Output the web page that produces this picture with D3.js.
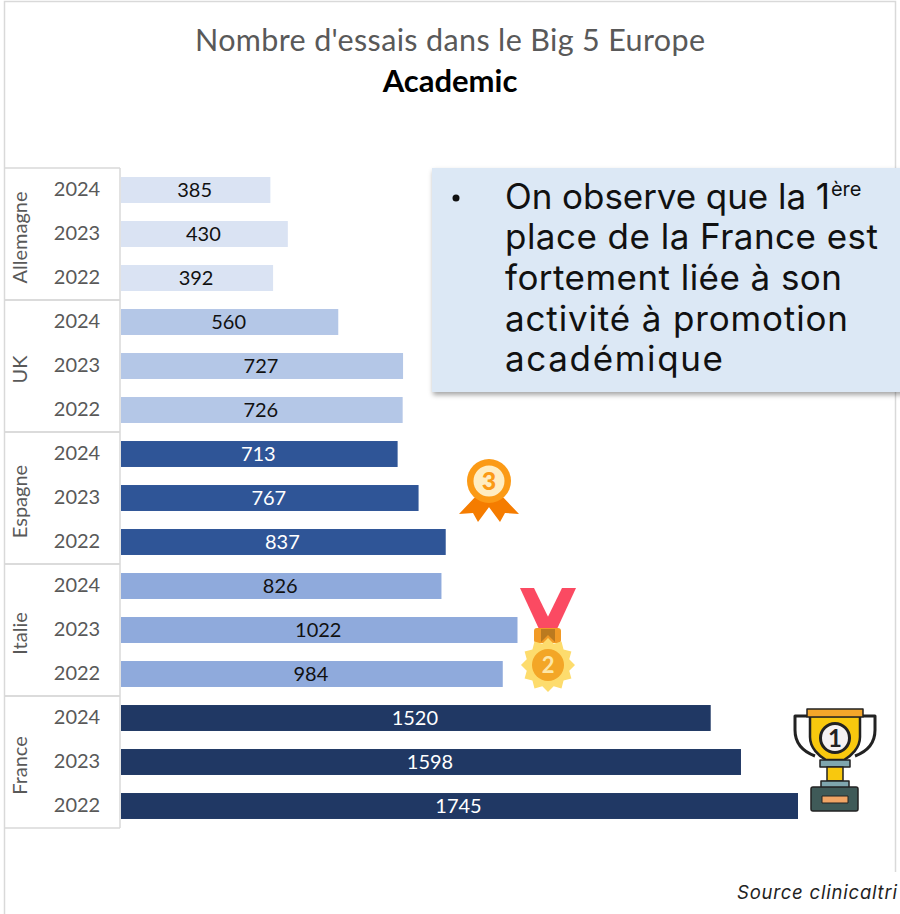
<!DOCTYPE html>
<html><head><meta charset="utf-8">
<script src="https://cdnjs.cloudflare.com/ajax/libs/d3/7.8.5/d3.min.js"></script>
<style>html,body{margin:0;padding:0;background:#fff;overflow:hidden}svg{display:block}</style>
</head><body><div id="chart"></div>
<script>
const countries = ["Allemagne","UK","Espagne","Italie","France"];
const years = ["2024","2023","2022"];
const values_Allemagne = [385,430,392];
const values_UK = [560,727,726];
const values_Espagne = [713,767,837];
const values_Italie = [826,1022,984];
const values_France = [1520,1598,1745];
const countryColors = ["#dae3f3","#b4c7e7","#2f5597","#8faadc","#203864"];
const labelColors = ["#111","#111","#fff","#111","#fff"];
const title = "Nombre d'essais dans le Big 5 Europe";
const subtitle = "Academic";
const calloutLines = ["On observe que la 1","place de la France est","fortement liée à son","activité à promotion","académique"];
const source = "Source clinicaltri";

const allValues = [values_Allemagne,values_UK,values_Espagne,values_Italie,values_France];
const rows = countries.flatMap((c,i)=>years.map((y,j)=>({c,y,i,v:allValues[i][j],key:c+y})));

const svg = d3.select("#chart").append("svg").attr("width",900).attr("height",914);
const FONT = "Lato, 'Open Sans', sans-serif";
const grid = "#d9d9d9";

const defs = svg.append("defs");
const f = defs.append("filter").attr("id","sh").attr("x","-5%").attr("y","-5%").attr("width","110%").attr("height","115%");
f.append("feDropShadow").attr("dx",1).attr("dy",3).attr("stdDeviation",2.5).attr("flood-color","#000").attr("flood-opacity",.35);

// outer frame
svg.append("path").attr("fill","none").attr("stroke",grid).attr("stroke-width",1.5)
  .attr("d","M4.5,914V1.5H895.5V872");

// titles
svg.append("text").attr("x",450).attr("y",51).attr("text-anchor","middle")
  .attr("font-family",FONT).attr("font-size",30.5).attr("fill","#595959").attr("textLength",510).text(title);
svg.append("text").attr("x",450).attr("y",92).attr("text-anchor","middle")
  .attr("font-family",FONT).attr("font-size",31).attr("font-weight",700).attr("fill","#000").text(subtitle);

// scales
const x = d3.scaleLinear().domain([0,1745]).range([121,798]);
const y = d3.scaleBand().domain(rows.map(d=>d.key)).range([168,828]).paddingInner(.41).paddingOuter(.205);
const step = y.step();

// table
const tx0 = 4.5, tx1 = 120;
const tbl = svg.append("g").attr("stroke",grid).attr("stroke-width",1.5);
countries.forEach((c,i)=>{
  const top = y(c+years[0]) - step*.205;
  tbl.append("line").attr("x1",tx0).attr("x2",tx1).attr("y1",top).attr("y2",top);
  tbl.append("line").attr("x1",tx0).attr("x2",tx1).attr("y1",top+step*3).attr("y2",top+step*3);
});
tbl.append("line").attr("x1",tx1).attr("x2",tx1).attr("y1",168).attr("y2",828);

// bars
svg.append("g").selectAll("rect").data(rows).join("rect")
  .attr("x",x(0)).attr("y",d=>y(d.key)).attr("width",d=>x(d.v)-x(0)).attr("height",y.bandwidth())
  .attr("fill",d=>countryColors[d.i]);

// value labels
svg.append("g").selectAll("text").data(rows).join("text")
  .attr("x",d=>(x(d.v)+x(0))/2-1).attr("y",d=>y(d.key)+y.bandwidth()/2+7)
  .attr("text-anchor","middle").attr("font-family",FONT).attr("font-size",20)
  .attr("fill",d=>labelColors[d.i]).text(d=>d.v);

// year labels
svg.append("g").selectAll("text").data(rows).join("text")
  .attr("x",77).attr("y",d=>y(d.key)+y.bandwidth()/2+6)
  .attr("text-anchor","middle").attr("font-family",FONT).attr("font-size",20).attr("fill","#595959").text(d=>d.y);

// country labels
countries.forEach(c=>{
  const cy = y(c+years[1])+y.bandwidth()/2+3.5;
  svg.append("text").attr("transform",`translate(27,${cy}) rotate(-90)`).attr("text-anchor","middle")
    .attr("font-family",FONT).attr("font-size",20).attr("fill","#595959").text(c);
});

// callout
svg.append("rect").attr("x",432).attr("y",168).attr("width",480).attr("height",224)
  .attr("fill","#dce8f5").attr("filter","url(#sh)");
svg.append("circle").attr("cx",456).attr("cy",198).attr("r",3.5).attr("fill","#111");
const baselines = [209,249,290,331,371];
const lineLengths = [325,373,337,343,218];
calloutLines.forEach((t,i)=>{
  const el = svg.append("text").attr("x",505).attr("y",baselines[i])
    .attr("font-family","Inter, sans-serif").attr("font-size",35).attr("fill","#111");
  const ts = el.append("tspan").attr("textLength",lineLengths[i]).text(t);
  if(i===0) el.append("tspan").attr("dy",-13).attr("dx",1).attr("font-size",20).text("ère");
});

// source
svg.append("text").attr("x",737).attr("y",899).attr("font-family","Inter, sans-serif").attr("font-size",18.5)
  .attr("font-style","italic").attr("fill","#222").attr("textLength",160).text(source);

// medal 3
const m3 = svg.append("g").attr("transform","translate(489,481)");
m3.append("path").attr("d","M-12,14L-30,33L-16,32L-11,41L6,18Z").attr("fill","#f57c00");
m3.append("path").attr("d","M12,14L30,33L16,32L11,41L-6,18Z").attr("fill","#f57c00");
m3.append("circle").attr("r",22).attr("fill","#fb9a16");
m3.append("circle").attr("r",15.5).attr("fill","#ffedc2");
m3.append("text").attr("y",9).attr("text-anchor","middle").attr("font-family",FONT).attr("font-weight",900)
  .attr("font-size",25).attr("fill","#fb9a16").text("3");

// medal 2
const m2 = svg.append("g").attr("transform","translate(548,665)");
m2.append("path").attr("d","M-28,-77H-14L6,-36L-3,-23Z").attr("fill","#fb4a62");
m2.append("path").attr("d","M28,-77H14L-6,-36L3,-23Z").attr("fill","#fb4a62");
m2.append("rect").attr("x",-14).attr("y",-37).attr("width",27).attr("height",15).attr("rx",3).attr("fill","#f19a26");
m2.append("path").attr("d","M-7,-23L0,-30L7,-23L7,-36L-7,-36Z").attr("fill","#bb7a1f");
const starPts = d3.range(24).map(k=>{const a=k*Math.PI/12, r=k%2?22:27; return [r*Math.sin(a),-r*Math.cos(a)];});
m2.append("polygon").attr("points",starPts.map(p=>p.join(",")).join(" ")).attr("fill","#fddc6d");
m2.append("circle").attr("r",16).attr("fill","#f3a627");
m2.append("text").attr("y",8).attr("text-anchor","middle").attr("font-family",FONT).attr("font-weight",700)
  .attr("font-size",22).attr("fill","#fde7a8").text("2");

// trophy
const tr = svg.append("g").attr("transform","translate(835,0)").attr("stroke-linejoin","round");
tr.append("path").attr("d","M-28,716H-40V730C-40,746,-28,753,-20,756M28,716H40V730C40,746,28,753,20,756")
  .attr("fill","#fff").attr("stroke","#222").attr("stroke-width",3);
tr.append("path").attr("d","M-25,716H25V737C25,748,16,756,9,760H-9C-16,756,-25,748,-25,737Z").attr("fill","#f8c80e").attr("stroke","#222").attr("stroke-width",2.5);
tr.append("rect").attr("x",-28).attr("y",709).attr("width",56).attr("height",8).attr("fill","#f3a62a").attr("stroke","#222").attr("stroke-width",1.5);
tr.append("rect").attr("x",-15).attr("y",760).attr("width",30).attr("height",7).attr("fill","#7fa6ae").attr("stroke","#222").attr("stroke-width",1.5);
tr.append("rect").attr("x",-8).attr("y",767).attr("width",16).attr("height",14).attr("fill","#f8c80e").attr("stroke","#222").attr("stroke-width",1.5);
tr.append("rect").attr("x",-14).attr("y",781).attr("width",28).attr("height",7).attr("fill","#7fa6ae").attr("stroke","#222").attr("stroke-width",1.5);
tr.append("rect").attr("x",-24).attr("y",787).attr("width",47).attr("height",24).attr("rx",2).attr("fill","#3f5a58").attr("stroke","#222").attr("stroke-width",1.5);
tr.append("rect").attr("x",-13).attr("y",796).attr("width",26).attr("height",7).attr("fill","#f0a465").attr("stroke","#222").attr("stroke-width",1);
tr.append("circle").attr("cy",738).attr("r",14.5).attr("fill","#f5f2f2").attr("stroke","#222").attr("stroke-width",3);
tr.append("text").attr("y",747).attr("text-anchor","middle").attr("font-family",FONT).attr("font-weight",700)
  .attr("font-size",24).attr("fill","#222").text("1");
</script></body></html>
